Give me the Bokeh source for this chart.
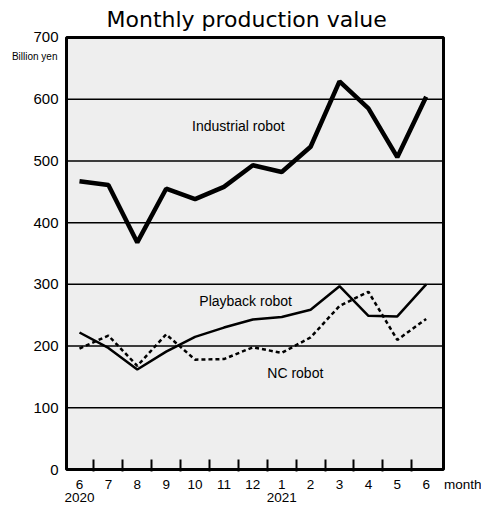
from bokeh.plotting import figure
from bokeh.models import FixedTicker, Range1d, Label, LinearAxis
from bokeh.embed import file_html
from bokeh.resources import INLINE

# ---- data ----
months = ["6", "7", "8", "9", "10", "11", "12", "1", "2", "3", "4", "5", "6"]
years = {0: "2020", 7: "2021"}
industrial = [467, 461, 368, 455, 438, 458, 493, 482, 523, 629, 585, 506, 604]
playback = [222, 197, 162, 191, 215, 230, 243, 247, 259, 297, 249, 248, 300]
nc = [196, 217, 168, 219, 178, 179, 198, 189, 214, 265, 288, 210, 244]
y_ticks = [0, 100, 200, 300, 400, 500, 600, 700]
series_labels = [("Industrial robot", 5.5, 557), ("Playback robot", 5.75, 273), ("NC robot", 7.47, 157)]
unit_text = "Billion yen"
month_text = "month"

# ---- layout constants ----
X_MIN, X_MAX = -0.45, 12.6      # plot box
Y_MIN, Y_MAX = 0, 700
MONTH_POS = 13.3                # "month" caption position on x axis
UNIT_Y = 669                    # "Billion yen" caption height
FONT = "Liberation Sans"

x = list(range(len(months)))

p = figure(width=481, height=506, output_backend="svg", toolbar_location=None,
           x_range=Range1d(-0.519, 13.915), y_range=Range1d(-3.2, 703.2),
           min_border_left=64, min_border_right=0, min_border_bottom=35, min_border_top=0)

p.title.text = "Monthly production value"
p.title.align = "left"
p.title.offset = 42
p.title.standoff = 8
p.title.text_font = "DejaVu Sans"
p.title.text_font_size = "22px"
p.title.text_font_style = "normal"
p.title.text_color = "black"

p.background_fill_color = "white"
p.border_fill_color = "white"
p.outline_line_color = None
p.xgrid.visible = False
p.ygrid.visible = False


def plain_axis(ax, size, standoff):
    ax.axis_line_color = None
    ax.major_tick_line_color = None
    ax.minor_tick_line_color = None
    ax.major_tick_out = 0
    ax.major_tick_in = 0
    ax.minor_tick_out = 0
    ax.minor_tick_in = 0
    ax.major_label_text_font = FONT
    ax.major_label_text_font_size = size
    ax.major_label_text_color = "black"
    ax.major_label_standoff = standoff


# y axis with numbers
yax = p.yaxis[0]
yax.ticker = FixedTicker(ticks=y_ticks)
plain_axis(yax, "15px", 6)

# unit caption axis (outer left)
uax = LinearAxis(ticker=FixedTicker(ticks=[UNIT_Y]), major_label_overrides={UNIT_Y: unit_text})
plain_axis(uax, "10px", -27)
p.add_layout(uax, "left")

# x axis: months (+ caption) and tick marks between months
xax = p.xaxis[0]
xax.ticker = FixedTicker(ticks=x + [MONTH_POS], minor_ticks=[i + 0.5 for i in x[:-1]])
overrides = {i: m for i, m in enumerate(months)}
overrides[MONTH_POS] = month_text
xax.major_label_overrides = overrides
plain_axis(xax, "13.5px", 5)
xax.minor_tick_in = 12
xax.minor_tick_line_color = "black"
xax.minor_tick_line_width = 2

# year row
yrax = LinearAxis(ticker=FixedTicker(ticks=list(years.keys())), major_label_overrides=years)
plain_axis(yrax, "13.5px", -2)
p.add_layout(yrax, "below")

# plot box
p.quad(left=X_MIN, right=X_MAX, bottom=Y_MIN, top=Y_MAX, fill_color="#eeeeee", line_color=None)
grid_y = [v for v in y_ticks if Y_MIN < v < Y_MAX]
p.segment(x0=X_MIN, x1=X_MAX, y0=grid_y, y1=grid_y, line_color="black", line_width=1.5)

p.line(x, industrial, line_color="black", line_width=4.5)
p.line(x, playback, line_color="black", line_width=2.5)
p.line(x, nc, line_color="black", line_width=2.5, line_dash="4 3")

p.quad(left=X_MIN, right=X_MAX, bottom=Y_MIN, top=Y_MAX, fill_color=None,
       line_color="black", line_width=3)

for txt, lx, ly in series_labels:
    p.add_layout(Label(x=lx, y=ly, text=txt, text_align="center", text_baseline="middle",
                       text_font=FONT, text_font_size="14px", text_color="black"))

open("out.html", "w").write(file_html(p, INLINE))
